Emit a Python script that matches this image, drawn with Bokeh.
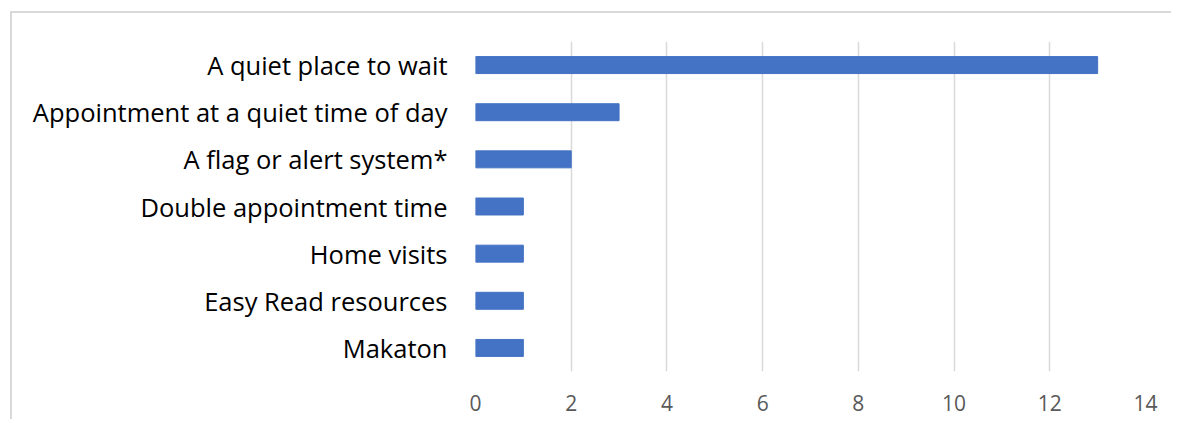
from bokeh.plotting import figure
from bokeh.models import FactorRange, Range1d, FixedTicker
from bokeh.embed import file_html
from bokeh.resources import INLINE

categories = [
    "A quiet place to wait",
    "Appointment at a quiet time of day",
    "A flag or alert system*",
    "Double appointment time",
    "Home visits",
    "Easy Read resources",
    "Makaton",
]
values = [13, 3, 2, 1, 1, 1, 1]
x_ticks = [0, 2, 4, 6, 8, 10, 12, 14]

p = figure(
    width=1161, height=408,
    y_range=FactorRange(*reversed(categories)),
    x_range=Range1d(0, 14),
    output_backend="svg", toolbar_location=None,
    min_border_left=463, min_border_right=28,
    min_border_top=28, min_border_bottom=50,
)
p.styles = {
    "margin-left": "10px", "margin-top": "11px",
    "border-left": "2px solid #d9d9d9", "border-top": "2px solid #d9d9d9",
}

p.hbar(y=categories, right=values, left=0, height=0.36, color="#4472C4")

p.outline_line_color = None
p.ygrid.grid_line_color = None
p.xgrid.grid_line_color = "#d9d9d9"
p.xgrid.grid_line_width = 1.5

p.xaxis.ticker = FixedTicker(ticks=x_ticks)
p.xaxis.axis_line_color = None
p.xaxis.major_tick_line_color = None
p.xaxis.minor_tick_line_color = None
p.xaxis.major_label_text_font = "Open Sans"
p.xaxis.major_label_text_font_size = "21px"
p.xaxis.major_label_text_color = "#595959"
p.xaxis.major_label_standoff = 17

p.yaxis.axis_line_color = None
p.yaxis.major_tick_line_color = None
p.yaxis.minor_tick_line_color = None
p.yaxis.major_label_text_font = "Open Sans"
p.yaxis.major_label_text_font_size = "25.5px"
p.yaxis.major_label_text_color = "#000000"
p.yaxis.major_label_standoff = 22

open("out.html", "w").write(file_html(p, INLINE))
